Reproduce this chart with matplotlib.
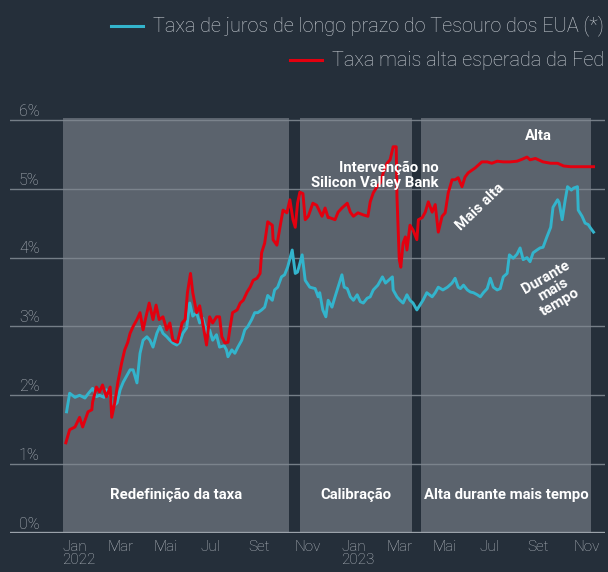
import matplotlib
matplotlib.use("Agg")
import matplotlib.pyplot as plt
import pandas as pd
from matplotlib.lines import Line2D

# ---------------- data ----------------
treasury_dates = [
    "2022-01-07", "2022-01-11", "2022-01-18", "2022-01-24", "2022-01-31", "2022-02-04", "2022-02-10",
    "2022-02-15", "2022-02-19", "2022-02-25", "2022-02-28", "2022-03-05", "2022-03-08", "2022-03-14",
    "2022-03-18", "2022-03-22", "2022-03-27", "2022-03-31", "2022-04-04", "2022-04-09", "2022-04-13",
    "2022-04-17", "2022-04-22", "2022-04-26", "2022-04-30", "2022-05-05", "2022-05-09", "2022-05-13",
    "2022-05-18", "2022-05-22", "2022-05-26", "2022-05-31", "2022-06-04", "2022-06-08", "2022-06-13",
    "2022-06-17", "2022-06-21", "2022-06-26", "2022-06-30", "2022-07-04", "2022-07-09", "2022-07-13",
    "2022-07-17", "2022-07-22", "2022-07-26", "2022-08-01", "2022-08-04", "2022-08-06", "2022-08-11",
    "2022-08-15", "2022-08-19", "2022-08-24", "2022-08-28", "2022-09-01", "2022-09-06", "2022-09-10",
    "2022-09-14", "2022-09-19", "2022-09-23", "2022-09-27", "2022-10-03", "2022-10-06", "2022-10-10",
    "2022-10-15", "2022-10-19", "2022-10-23", "2022-10-29", "2022-11-02", "2022-11-05", "2022-11-11",
    "2022-11-15", "2022-11-21", "2022-11-28", "2022-12-02", "2022-12-04", "2022-12-08", "2022-12-12",
    "2022-12-15", "2022-12-20", "2022-12-24", "2022-12-28", "2023-01-02", "2023-01-05", "2023-01-09",
    "2023-01-13", "2023-01-17", "2023-01-22", "2023-01-26", "2023-01-30", "2023-02-04", "2023-02-08",
    "2023-02-12", "2023-02-18", "2023-02-24", "2023-02-28", "2023-03-04", "2023-03-09", "2023-03-10",
    "2023-03-15", "2023-03-19", "2023-03-23", "2023-03-28", "2023-04-01", "2023-04-05", "2023-04-10",
    "2023-04-14", "2023-04-18", "2023-04-23", "2023-04-30", "2023-05-04", "2023-05-08", "2023-05-14",
    "2023-05-20", "2023-05-26", "2023-05-30", "2023-06-03", "2023-06-06", "2023-06-10", "2023-06-15",
    "2023-06-19", "2023-06-23", "2023-06-28", "2023-07-02", "2023-07-06", "2023-07-11", "2023-07-15",
    "2023-07-19", "2023-07-24", "2023-07-28", "2023-08-01", "2023-08-06", "2023-08-09", "2023-08-14",
    "2023-08-19", "2023-08-23", "2023-08-27", "2023-09-01", "2023-09-05", "2023-09-09", "2023-09-14",
    "2023-09-18", "2023-09-22", "2023-09-27", "2023-10-02", "2023-10-05", "2023-10-11", "2023-10-13",
    "2023-10-17", "2023-10-21", "2023-10-24", "2023-10-29", "2023-11-01", "2023-11-06", "2023-11-07",
    "2023-11-12", "2023-11-16", "2023-11-20", "2023-11-23", "2023-11-27",
]
treasury_values = [
    1.76, 2.03, 1.97, 2.00, 1.96, 2.02, 2.10,
    1.98, 2.00, 1.97, 2.08, 2.02, 1.83, 1.89,
    2.08, 2.19, 2.29, 2.37, 2.37, 2.18, 2.61,
    2.80, 2.85, 2.80, 2.70, 2.90, 3.00, 2.90,
    2.85, 2.80, 2.76, 2.73, 2.77, 2.90, 2.98,
    3.34, 3.15, 3.20, 3.05, 3.12, 2.90, 2.95,
    2.80, 2.88, 2.70, 2.72, 2.66, 2.56, 2.66,
    2.61, 2.70, 2.80, 2.95, 3.00, 3.10, 3.20,
    3.20, 3.24, 3.28, 3.45, 3.38, 3.53, 3.57,
    3.72, 3.75, 3.86, 4.11, 3.77, 3.79, 4.04,
    3.67, 3.57, 3.55, 3.43, 3.49, 3.24, 3.14,
    3.38, 3.28, 3.43, 3.57, 3.75, 3.57, 3.55,
    3.43, 3.38, 3.46, 3.36, 3.34, 3.41, 3.43,
    3.53, 3.60, 3.72, 3.63, 3.67, 3.72, 3.53,
    3.43, 3.38, 3.34, 3.46, 3.38, 3.34, 3.24,
    3.31, 3.38, 3.49, 3.43, 3.49, 3.57, 3.53,
    3.57, 3.63, 3.70, 3.57, 3.55, 3.60, 3.53,
    3.50, 3.49, 3.46, 3.43, 3.49, 3.55, 3.70,
    3.57, 3.53, 3.55, 3.72, 3.77, 4.04, 3.99,
    4.05, 4.14, 3.97, 4.00, 3.94, 4.07, 4.11,
    4.14, 4.15, 4.30, 4.44, 4.73, 4.84, 4.80,
    4.55, 4.84, 5.03, 4.98, 5.01, 5.03, 4.69,
    4.60, 4.50, 4.48, 4.43, 4.37,
]

fed_dates = [
    "2022-01-06", "2022-01-11", "2022-01-18", "2022-01-24", "2022-01-28", "2022-02-04", "2022-02-09",
    "2022-02-10", "2022-02-15", "2022-02-19", "2022-02-23", "2022-02-28", "2022-03-05", "2022-03-07",
    "2022-03-11", "2022-03-15", "2022-03-20", "2022-03-24", "2022-03-28", "2022-03-31", "2022-04-04",
    "2022-04-09", "2022-04-13", "2022-04-17", "2022-04-21", "2022-04-25", "2022-04-30", "2022-05-04",
    "2022-05-08", "2022-05-13", "2022-05-18", "2022-05-22", "2022-05-26", "2022-06-01", "2022-06-07",
    "2022-06-11", "2022-06-14", "2022-06-18", "2022-06-21", "2022-06-26", "2022-06-30", "2022-07-04",
    "2022-07-09", "2022-07-13", "2022-07-17", "2022-07-22", "2022-07-26", "2022-07-29", "2022-08-02",
    "2022-08-06", "2022-08-09", "2022-08-12", "2022-08-18", "2022-08-22", "2022-08-26", "2022-08-31",
    "2022-09-04", "2022-09-08", "2022-09-13", "2022-09-17", "2022-09-19", "2022-09-23", "2022-09-27",
    "2022-10-03", "2022-10-04", "2022-10-09", "2022-10-13", "2022-10-17", "2022-10-22", "2022-10-26",
    "2022-10-30", "2022-11-02", "2022-11-05", "2022-11-08", "2022-11-12", "2022-11-15", "2022-11-19",
    "2022-11-25", "2022-11-30", "2022-12-07", "2022-12-11", "2022-12-15", "2022-12-17", "2022-12-24",
    "2022-12-28", "2023-01-02", "2023-01-09", "2023-01-13", "2023-01-17", "2023-01-23", "2023-01-30",
    "2023-02-05", "2023-02-08", "2023-02-12", "2023-02-17", "2023-02-21", "2023-02-25", "2023-03-02",
    "2023-03-06", "2023-03-10", "2023-03-14", "2023-03-15", "2023-03-18", "2023-03-20", "2023-03-23",
    "2023-03-26", "2023-03-28", "2023-04-01", "2023-04-05", "2023-04-10", "2023-04-12", "2023-04-17",
    "2023-04-21", "2023-04-25", "2023-04-30", "2023-05-04", "2023-05-08", "2023-05-13", "2023-05-17",
    "2023-05-21", "2023-05-26", "2023-05-30", "2023-06-03", "2023-06-08", "2023-06-12", "2023-06-16",
    "2023-06-21", "2023-06-25", "2023-06-29", "2023-07-04", "2023-07-11", "2023-07-17", "2023-07-24",
    "2023-08-01", "2023-08-10", "2023-08-19", "2023-08-26", "2023-09-01", "2023-09-05", "2023-09-12",
    "2023-09-22", "2023-10-02", "2023-10-11", "2023-10-19", "2023-10-28", "2023-11-06", "2023-11-14",
    "2023-11-27",
]
fed_values = [
    1.31, 1.50, 1.54, 1.68, 1.54, 1.76, 1.79,
    1.90, 2.12, 2.05, 2.15, 1.98, 2.12, 1.68,
    1.89, 2.19, 2.47, 2.66, 2.77, 2.90, 3.00,
    3.10, 3.20, 2.95, 3.15, 3.34, 3.10, 3.31,
    3.10, 3.14, 2.95, 3.05, 2.80, 2.77, 3.05,
    3.10, 3.49, 3.77, 3.49, 3.20, 3.30, 3.05,
    2.73, 3.14, 3.05, 3.14, 3.14, 2.85, 2.76,
    2.77, 3.00, 3.20, 3.24, 3.34, 3.38, 3.50,
    3.57, 3.67, 3.70, 3.77, 4.07, 4.21, 4.52,
    4.47, 4.26, 4.18, 4.44, 4.69, 4.65, 4.84,
    4.55, 4.44, 4.79, 4.95, 4.93, 4.55, 4.60,
    4.79, 4.76, 4.60, 4.72, 4.58, 4.58, 4.55,
    4.66, 4.72, 4.79, 4.66, 4.60, 4.65, 4.62,
    4.60, 4.81, 4.94, 5.03, 5.08, 5.23, 5.37,
    5.42, 5.61, 5.61, 4.88, 3.97, 3.86, 4.21,
    4.30, 4.11, 4.47, 4.40, 4.26, 4.55, 4.58,
    4.66, 4.81, 4.66, 4.77, 4.37, 4.60, 4.65,
    4.94, 5.13, 5.13, 5.16, 5.03, 5.17, 5.23,
    5.27, 5.30, 5.34, 5.39, 5.39, 5.37, 5.40,
    5.39, 5.39, 5.40, 5.43, 5.46, 5.42, 5.44,
    5.39, 5.37, 5.37, 5.33, 5.32, 5.32, 5.32,
    5.32,
]

series_labels = ["Taxa de juros de longo prazo do Tesouro dos EUA (*)", "Taxa mais alta esperada da Fed"]
phase_names = ["Redefinição da taxa", "Calibração", "Alta durante mais tempo"]
phase_starts = ["2022-01-02", "2022-11-08", "2023-04-16"]
phase_ends = ["2022-10-25", "2023-04-04", "2023-11-24"]
y_ticks = [0, 1, 2, 3, 4, 5, 6]
y_tick_labels = ["0%", "1%", "2%", "3%", "4%", "5%", "6%"]
x_tick_dates = ["2022-01-01", "2022-03-01", "2022-05-01", "2022-07-01", "2022-09-01", "2022-11-01",
                "2023-01-01", "2023-03-01", "2023-05-01", "2023-07-01", "2023-09-01", "2023-11-01"]
x_tick_labels = ["Jan\n2022", "Mar", "Mai", "Jul", "Set", "Nov",
                 "Jan\n2023", "Mar", "Mai", "Jul", "Set", "Nov"]

# ---------------- style ----------------
BG = "#252f3a"
PANEL = "#5b636d"
GRID = "#7f8790"
BASE = "#9ba2aa"
CYAN = "#33b4cc"
RED = "#e3000f"
TXT = "#c8cdd3"
TICK = "#b4bac1"

plt.rcParams['font.family'] = ['Roboto', 'DejaVu Sans']

W, H = 608, 572
fig = plt.figure(figsize=(W / 100, H / 100), dpi=100, facecolor=BG)
ax = fig.add_axes([10 / W, (H - 533) / H, 595 / W, 420 / H])
ax.set_facecolor(BG)
for s in ax.spines.values():
    s.set_visible(False)

td = pd.to_datetime(treasury_dates)
fd = pd.to_datetime(fed_dates)
ymax = 6.1
ax.set_ylim(0, ymax)
ax.set_xlim(pd.Timestamp("2021-10-25"), pd.Timestamp("2023-12-12"))

ANN = 10.7

# phases
for name, s, e in zip(phase_names, phase_starts, phase_ends):
    s, e = pd.Timestamp(s), pd.Timestamp(e)
    ax.axvspan(s, e, ymin=0, ymax=6.03 / ymax, color=PANEL, lw=0, zorder=1)
    ax.text(s + (e - s) / 2, 0.55, name, ha="center", va="center", color="white",
            fontsize=ANN, fontweight="bold", zorder=5)

# grid
for v, lab in zip(y_ticks, y_tick_labels):
    if v == 0:
        ax.axhline(v, color=BASE, lw=2.4, zorder=2)
    else:
        ax.axhline(v, color=GRID, lw=1.0, zorder=2, alpha=0.9)
    ax.text(0.015, v + 0.06, lab, transform=ax.get_yaxis_transform(), ha="left", va="baseline",
            color=TICK, fontsize=11.5, fontweight="light")

ax.plot(td, treasury_values, color=CYAN, lw=2.1, zorder=3, solid_joinstyle="round")
ax.plot(fd, fed_values, color=RED, lw=2.1, zorder=4, solid_joinstyle="round")

ax.set_yticks([])
ax.set_xticks(pd.to_datetime(x_tick_dates))
ax.set_xticklabels(x_tick_labels, ha="left", color=TICK, fontsize=11, fontweight="light",
                   linespacing=0.92)
ax.tick_params(axis="x", length=0, pad=5)

# annotations
ax.text(pd.Timestamp("2023-05-08"), 5.19, "Intervenção no\nSilicon Valley Bank", ha="right", va="center",
        multialignment="right", color="white", fontsize=ANN, fontweight="bold", zorder=5, linespacing=1.05)
ax.text(pd.Timestamp("2023-09-16"), 5.77, "Alta", ha="center", va="center",
        color="white", fontsize=ANN, fontweight="bold", zorder=5)
ax.text(pd.Timestamp("2023-07-02"), 4.73, "Mais alta", ha="center", va="center", rotation=44,
        rotation_mode="anchor", color="white", fontsize=ANN, fontweight="bold", zorder=5)
ax.text(pd.Timestamp("2023-10-05"), 3.53, "Durante\nmais\ntempo", ha="center", va="center", rotation=30,
        rotation_mode="anchor", multialignment="center", color="white", fontsize=ANN,
        fontweight="bold", zorder=5, linespacing=1.0)

# legend
leg_y = [26, 60]
leg_c = [CYAN, RED]
texts = []
for lab, yy in zip(series_labels, leg_y):
    t = fig.text(604 / W, 1 - yy / H, lab, ha="right", va="center", color=TXT,
                 fontsize=14.3, fontweight="light")
    texts.append(t)
fig.canvas.draw()
r = fig.canvas.get_renderer()
for t, yy, c in zip(texts, leg_y, leg_c):
    bb = t.get_window_extent(r)
    x1 = bb.x0 - 10
    x0 = x1 - 32
    fig.add_artist(Line2D([x0 / W, x1 / W], [1 - yy / H, 1 - yy / H], transform=fig.transFigure,
                          color=c, lw=2.2))

fig.savefig("out.png", dpi=100, facecolor=BG)
